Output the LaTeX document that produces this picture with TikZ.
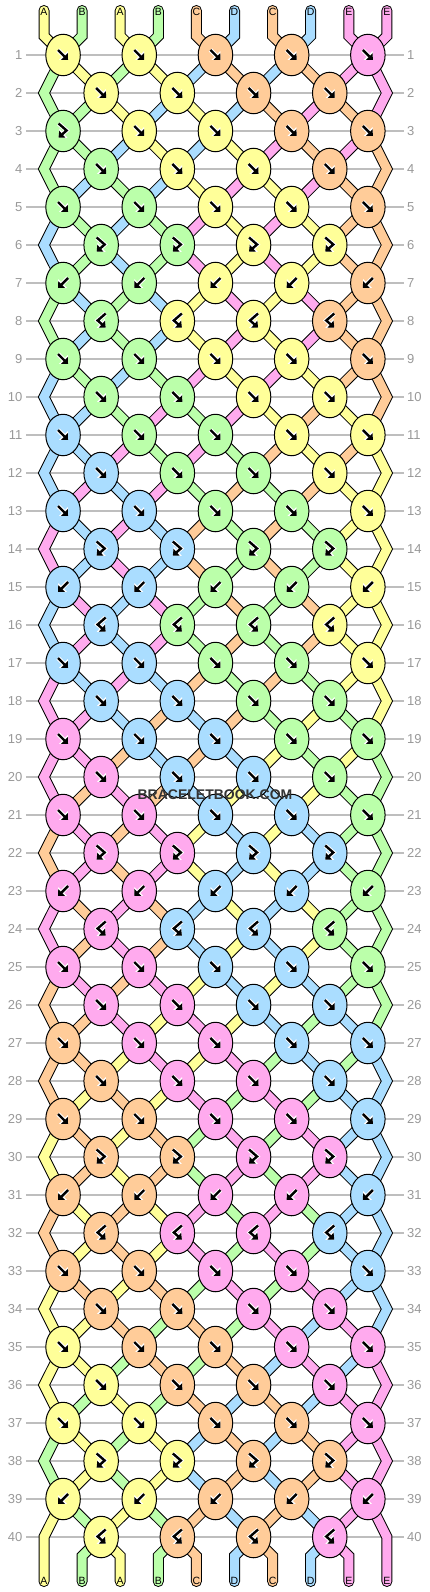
\documentclass[tikz,border=0pt]{standalone}
\usepackage{fontspec}
\setmainfont{Liberation Sans}
\usetikzlibrary{arrows.meta,shapes.geometric}
\pgfdeclarelayer{grid}
\pgfdeclarelayer{strings}
\pgfsetlayers{grid,strings,main}
\definecolor{c0}{HTML}{FFFF99}
\definecolor{c1}{HTML}{BBFFAA}
\definecolor{c2}{HTML}{FFCC99}
\definecolor{c3}{HTML}{AADDFF}
\definecolor{c4}{HTML}{FFAAEE}
\colorlet{cA}{c0}\colorlet{cB}{c1}\colorlet{cC}{c2}\colorlet{cD}{c3}\colorlet{cE}{c4}
\definecolor{gridgray}{HTML}{BEBEBE}
\definecolor{numgray}{HTML}{999999}
\definecolor{wmgray}{HTML}{333333}
\newcommand\defstate[2]{\expandafter\def\csname st#1\endcsname{{#2}}}
\newcommand\getstate[1]{\expandafter\let\expandafter\cur\csname st#1\endcsname}
\defstate{0}{0,1,0,1,2,3,2,3,4,4}
\defstate{1}{1,0,1,0,3,2,3,2,4,4}
\defstate{2}{1,1,0,3,0,3,2,4,2,4}
\defstate{3}{1,1,3,0,3,0,4,2,4,2}
\defstate{4}{1,3,1,3,0,4,0,4,2,2}
\defstate{5}{3,1,3,1,4,0,4,0,2,2}
\defstate{6}{3,1,3,1,4,0,4,0,2,2}
\defstate{7}{1,3,1,3,0,4,0,4,2,2}
\defstate{8}{1,3,1,3,0,4,0,4,2,2}
\defstate{9}{3,1,3,1,4,0,4,0,2,2}
\defstate{10}{3,3,1,4,1,4,0,2,0,2}
\defstate{11}{3,3,4,1,4,1,2,0,2,0}
\defstate{12}{3,4,3,4,1,2,1,2,0,0}
\defstate{13}{4,3,4,3,2,1,2,1,0,0}
\defstate{14}{4,3,4,3,2,1,2,1,0,0}
\defstate{15}{3,4,3,4,1,2,1,2,0,0}
\defstate{16}{3,4,3,4,1,2,1,2,0,0}
\defstate{17}{4,3,4,3,2,1,2,1,0,0}
\defstate{18}{4,4,3,2,3,2,1,0,1,0}
\defstate{19}{4,4,2,3,2,3,0,1,0,1}
\defstate{20}{4,2,4,2,3,0,3,0,1,1}
\defstate{21}{2,4,2,4,0,3,0,3,1,1}
\defstate{22}{2,4,2,4,0,3,0,3,1,1}
\defstate{23}{4,2,4,2,3,0,3,0,1,1}
\defstate{24}{4,2,4,2,3,0,3,0,1,1}
\defstate{25}{2,4,2,4,0,3,0,3,1,1}
\defstate{26}{2,2,4,0,4,0,3,1,3,1}
\defstate{27}{2,2,0,4,0,4,1,3,1,3}
\defstate{28}{2,0,2,0,4,1,4,1,3,3}
\defstate{29}{0,2,0,2,1,4,1,4,3,3}
\defstate{30}{0,2,0,2,1,4,1,4,3,3}
\defstate{31}{2,0,2,0,4,1,4,1,3,3}
\defstate{32}{2,0,2,0,4,1,4,1,3,3}
\defstate{33}{0,2,0,2,1,4,1,4,3,3}
\defstate{34}{0,0,2,1,2,1,4,3,4,3}
\defstate{35}{0,0,1,2,1,2,3,4,3,4}
\defstate{36}{0,1,0,1,2,3,2,3,4,4}
\defstate{37}{1,0,1,0,3,2,3,2,4,4}
\defstate{38}{1,0,1,0,3,2,3,2,4,4}
\defstate{39}{0,1,0,1,2,3,2,3,4,4}
\defstate{40}{0,1,0,1,2,3,2,3,4,4}
\tikzset{
  knotnode/.style={ellipse, draw=black, line width=1pt, minimum width=34.5pt, minimum height=41.5pt, inner sep=0pt},
  strand/.style={draw=black, line width=1pt, double=#1, double distance=9pt, line join=miter},
  leadstr/.style={strand=#1, line cap=round},
  symline/.style={black, line width=2.4pt, line join=miter, -{Triangle[length=5pt,width=9pt]}},
  symhalo/.style={white, line width=4.4pt, line join=miter, -{Triangle[length=6.5pt,width=12pt]}},
  rownum/.style={text=numgray, font=\fontsize{13}{13}\selectfont, inner sep=0pt},
  strlabel/.style={font=\fontsize{10.5}{10.5}\selectfont, inner sep=0pt},
  gridline/.style={draw=gridgray, line width=1.2pt},
}
\newcommand\drawsym[3]{%
  \ifcase#1
    \draw[symhalo,shift={(#2,#3)}] (-5,-5) -- (5,5);
    \draw[symline,shift={(#2,#3)}] (-5,-5) -- (5,5);
  \or
    \draw[symhalo,shift={(#2,#3)}] (5,-5) -- (-5,5);
    \draw[symline,shift={(#2,#3)}] (5,-5) -- (-5,5);
  \or
    \draw[symhalo,shift={(#2,#3)}] (-4.5,-7.5) -- (3.5,-0.5) -- (-4.5,6.5);
    \draw[symline,shift={(#2,#3)}] (-4.5,-7.5) -- (3.5,-0.5) -- (-4.5,6.5);
  \or
    \draw[symhalo,shift={(#2,#3)}] (4.5,-7.5) -- (-3.5,-0.5) -- (4.5,6.5);
    \draw[symline,shift={(#2,#3)}] (4.5,-7.5) -- (-3.5,-0.5) -- (4.5,6.5);
  \fi}
\begin{document}
\begin{tikzpicture}[x=1pt,y=-1pt]
\useasboundingbox (0,0) rectangle (430,1592);
\begin{pgfonlayer}{grid}
\fill[white] (0,0) rectangle (430,1592);
\foreach \r in {1,...,40}{
  \pgfmathsetmacro\Y{55+38*(\r-1)}
  \coordinate (gl-\r) at (26,\Y);
  \coordinate (gr-\r) at (404,\Y);
  \draw[gridline] (gl-\r) -- (gr-\r);
  \node[rownum, anchor=east] (nl-\r) at (22.5,\Y) {\r};
  \node[rownum, anchor=west] (nr-\r) at (407,\Y) {\r};
}
\end{pgfonlayer}
% knots
\foreach \r in {1,...,40}{
  \pgfmathtruncatemacro\rp{\r-1}
  \getstate{\rp}
  \pgfmathsetmacro\Y{55+38*(\r-1)}
  \pgfmathtruncatemacro\odd{mod(\r,2)}
  \pgfmathtruncatemacro\m{mod(\r,8)}
  \pgfmathtruncatemacro\kt{\m==6 ? 2 : (\m==7 ? 1 : (\m==0 ? 3 : 0))}
  \pgfmathtruncatemacro\side{mod(\kt,2)}
  \ifnum\odd=1 \def\Ls{1,3,5,7,9}\else\def\Ls{2,4,6,8}\fi
  \foreach \L in \Ls {
    \pgfmathtruncatemacro\c{\cur[\L-1+\side]}
    \pgfmathsetmacro\X{44+38.1*(\L-0.5)}
    \node[knotnode, fill=c\c] (k-\r-\L) at (\X,\Y) {};
    \edef\skt{\kt}
    \ifnum\r=3 \ifnum\L=1 \def\skt{2}\fi\fi
    \drawsym{\skt}{\X}{\Y}
  }
}
\begin{pgfonlayer}{strings}
% top leads
\foreach \t [count=\p] in {A,B,A,B,C,D,C,D,E,E}{
  \pgfmathsetmacro\X{44+38.1*(\p-1)}
  \pgfmathtruncatemacro\L{mod(\p,2)==1 ? \p : \p-1}
  \coordinate (t-\p) at (\X,10.5);
  \coordinate (tb-\p) at (\X,36);
  \draw[leadstr=c\t] (t-\p) -- (tb-\p) -- (k-1-\L.center);
}
% connectors between rows
\foreach \r in {1,...,39}{
  \pgfmathtruncatemacro\rn{\r+1}
  \getstate{\r}
  \pgfmathtruncatemacro\odd{mod(\r,2)}
  \foreach \p in {2,...,9}{
    \pgfmathtruncatemacro\c{\cur[\p-1]}
    \pgfmathtruncatemacro\Lo{mod(\p,2)==1 ? \p : \p-1}
    \pgfmathtruncatemacro\Le{mod(\p,2)==0 ? \p : \p-1}
    \ifnum\odd=1 \let\La\Lo \let\Lb\Le \else \let\La\Le \let\Lb\Lo \fi
    \draw[strand=c\c] (k-\r-\La.center) -- (k-\rn-\Lb.center);
  }
}
% edges
\foreach \r in {1,3,...,39}{
  \pgfmathtruncatemacro\rn{\r+1}
  \pgfmathtruncatemacro\rnn{\r+2}
  \getstate{\r}
  \pgfmathsetmacro\Y{55+38*\r}
  \coordinate (eL-\rn) at (44,\Y);
  \coordinate (eR-\rn) at (386.9,\Y);
  \pgfmathtruncatemacro\ca{\cur[0]}
  \pgfmathtruncatemacro\cb{\cur[9]}
  \ifnum\r<39
    \draw[strand=c\ca] (k-\r-1.center) -- (eL-\rn) -- (k-\rnn-1.center);
    \draw[strand=c\cb] (k-\r-9.center) -- (eR-\rn) -- (k-\rnn-9.center);
  \else
    \coordinate (b-1) at (44,1581.5);
    \coordinate (b-10) at (386.9,1581.5);
    \draw[leadstr=c\ca] (k-\r-1.center) -- (eL-\rn) -- (b-1);
    \draw[leadstr=c\cb] (k-\r-9.center) -- (eR-\rn) -- (b-10);
  \fi
}
% bottom leads
\foreach \t [count=\p] in {A,B,A,B,C,D,C,D,E,E}{
  \ifnum\p>1 \ifnum\p<10
    \pgfmathsetmacro\X{44+38.1*(\p-1)}
    \pgfmathtruncatemacro\L{mod(\p,2)==0 ? \p : \p-1}
    \coordinate (bb-\p) at (\X,1556);
    \coordinate (b-\p) at (\X,1581.5);
    \draw[leadstr=c\t] (k-40-\L.center) -- (bb-\p) -- (b-\p);
  \fi\fi
}
\end{pgfonlayer}
% string labels
\foreach \t [count=\p] in {A,B,A,B,C,D,C,D,E,E}{
  \pgfmathsetmacro\X{44+38.1*(\p-1)}
  \node[strlabel] (lt-\p) at (\X,12.3) {\t};
  \node[strlabel] (lb-\p) at (\X,1581) {\t};
}
\node[font=\bfseries\fontsize{14}{14}\selectfont, text=wmgray, inner sep=0pt] (wm) at (215,795) {BRACELETBOOK.COM};
\end{tikzpicture}
\end{document}
